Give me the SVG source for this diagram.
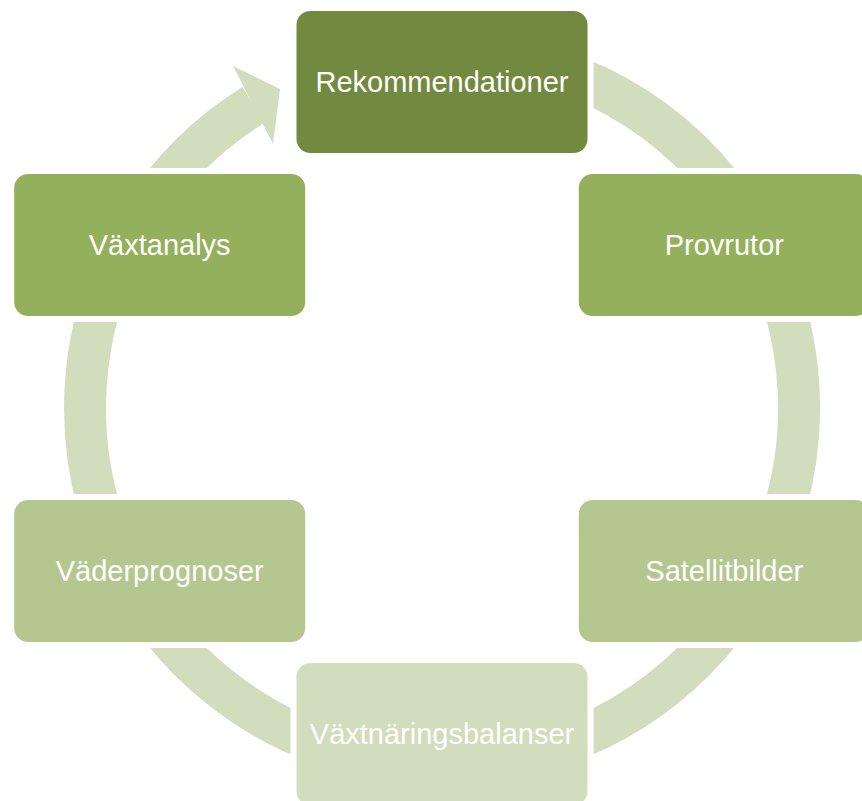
<svg xmlns="http://www.w3.org/2000/svg" width="862" height="801" viewBox="0 0 862 801">
<style>
.lbl{font-family:"Liberation Sans",Arial,sans-serif;font-size:29px;fill:#ffffff;text-anchor:middle}
.band{fill:none;stroke:#D1DDBD;stroke-width:42}
</style>
<defs>
<mask id="gap" maskUnits="userSpaceOnUse" x="0" y="0" width="862" height="801">
<rect x="0" y="0" width="862" height="801" fill="#fff"/>
<g fill="#000">
<rect x="290.5" y="5" width="303" height="154" rx="18"/>
<rect x="572.8" y="168" width="303" height="154" rx="18"/>
<rect x="572.8" y="494" width="303" height="154" rx="18"/>
<rect x="290.5" y="657" width="303" height="154" rx="18"/>
<rect x="8.2" y="494" width="303" height="154" rx="18"/>
<rect x="8.2" y="168" width="303" height="154" rx="18"/>
</g>
</mask>
</defs>
<g id="connectors" mask="url(#gap)">
<path class="band" d="M 442,51 A 357,357 0 1,1 253.6,104.8"/>
<polygon points="233,66 280,89 273,144" fill="#D1DDBD"/>
</g>
<g id="n1"><rect x="296.5" y="11" width="291" height="142" rx="14" fill="#728A40"/><text class="lbl" x="442" y="92">Rekommendationer</text></g>
<g id="n2"><rect x="578.8" y="174" width="291" height="142" rx="14" fill="#95B05C"/><text class="lbl" x="724.3" y="255">Provrutor</text></g>
<g id="n3"><rect x="578.8" y="500" width="291" height="142" rx="14" fill="#B4C78F"/><text class="lbl" x="724.3" y="581">Satellitbilder</text></g>
<g id="n4"><rect x="296.5" y="663" width="291" height="142" rx="14" fill="#D1DDBD"/><text class="lbl" x="442" y="744">Växtnäringsbalanser</text></g>
<g id="n5"><rect x="14.2" y="500" width="291" height="142" rx="14" fill="#B4C78F"/><text class="lbl" x="159.7" y="581">Väderprognoser</text></g>
<g id="n6"><rect x="14.2" y="174" width="291" height="142" rx="14" fill="#95B05C"/><text class="lbl" x="159.7" y="255">Växtanalys</text></g>
</svg>
